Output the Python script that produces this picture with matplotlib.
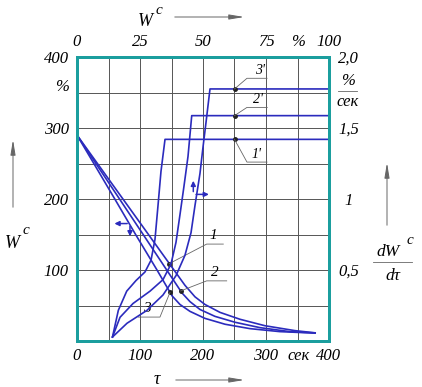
import numpy as np
import matplotlib.pyplot as plt
from matplotlib.lines import Line2D

plt.rcParams['font.family'] = ['Liberation Serif', 'DejaVu Serif']
plt.rcParams['font.style'] = 'italic'

# drying curves 1, 2, 3: W^c (%) against time tau (s)
tau_1 = [0, 32.4, 72.9, 113.4, 153.9, 171.4, 187.3, 203.2, 227, 258.7, 298.4, 346, 378]
w_1 = [290, 250, 200, 150, 100, 78.4, 62.2, 51.4, 40.3, 30.6, 21.5, 14.6, 11.5]
tau_2 = [0, 30, 67.5, 105, 142.4, 166.7, 179.4, 195.2, 219, 250.8, 290.5, 338, 378]
w_2 = [290, 250, 200, 150, 100, 67.6, 55.4, 44.4, 34.7, 26.4, 18.8, 13.2, 11.4]
tau_3 = [0, 26.7, 60, 93, 127, 151, 163.5, 179.4, 203, 235, 274.6, 322, 378]
w_3 = [290, 250, 200, 150, 100, 63.5, 51.4, 41.7, 31.9, 23.6, 17.4, 13.2, 11.1]

# drying rate curves 1', 2', 3': dW^c/dtau (%/s)
tau_1p = [56.3, 65.6, 78.9, 93.7, 107.9, 117.5, 123.8, 128.6, 133.3, 139.7, 400]
rate_1p = [0.028, 0.216, 0.351, 0.426, 0.486, 0.569, 0.716, 0.955, 1.194, 1.42, 1.42]
tau_2p = [56.3, 68.3, 88.9, 115.9, 136.5, 149.2, 157.1, 163.5, 169.8, 176.2, 182.1, 400]
rate_2p = [0.028, 0.167, 0.264, 0.351, 0.432, 0.542, 0.694, 0.891, 1.09, 1.30, 1.587, 1.587]
tau_3p = [56.3, 79.4, 111.1, 136.5, 157.1, 171.4, 181, 187.3, 195.2, 200, 204.8, 211.1, 400]
rate_3p = [0.028, 0.125, 0.216, 0.324, 0.46, 0.604, 0.763, 0.955, 1.18, 1.365, 1.54, 1.775, 1.775]

# points where the curve labels are attached
lab_tau = [146.5, 164.5, 147.6]
lab_w = [109, 70.5, 68.5]
labp_tau = [250, 250, 250]
labp_rate = [1.42, 1.587, 1.775]

blue = '#2b2bbd'
teal = '#1b9e9e'
grey = '#666666'

fig = plt.figure(figsize=(4.22, 3.87), dpi=100)
ax = fig.add_axes([77/422, 46/387, 252/422, 284/387])


def fpx(x, y):
    return x/422, 1 - y/387


ax.set_xlim(0, 400)
ax.set_ylim(0, 400)
ax.set_xticks([0, 100, 200, 300, 352, 400], ['0', '100', '200', '300', 'сек', '400'])
ax.set_yticks([100, 200, 300, 360, 400], ['100', '200', '300', '%', '400'])
for v in np.arange(50, 400, 50):
    ax.axvline(v, color='#555555', lw=0.7, zorder=0)
    ax.axhline(v, color='#555555', lw=0.7, zorder=0)
ax.tick_params(length=0, labelsize=12)
ax.tick_params(axis='x', pad=5)
ax.tick_params(axis='y', pad=6)

ax2 = ax.twinx()
ax2.set_ylim(0, 2)
ax2.set_yticks([0.5, 1, 1.5, 2.0], ['0,5', '1', '1,5', '2,0'])
ax2.tick_params(length=0, pad=14, labelsize=12)
for lbl in ax2.get_yticklabels():
    lbl.set_horizontalalignment('center')

ax3 = ax.twiny()
ax3.set_xlim(0, 100)
ax3.set_xticks([0, 25, 50, 75, 87.5, 100], ['0', '25', '50', '75', '%', '100'])
ax3.tick_params(length=0, pad=5, labelsize=12)

for a in (ax, ax2, ax3):
    for s in a.spines.values():
        s.set_color(teal)
        s.set_linewidth(2)

# curves
ax.plot(tau_1, w_1, color=blue, lw=1.2)
ax.plot(tau_2, w_2, color=blue, lw=1.2)
ax.plot(tau_3, w_3, color=blue, lw=1.2)
ax2.plot(tau_1p, rate_1p, color=blue, lw=1.2)
ax2.plot(tau_2p, rate_2p, color=blue, lw=1.2)
ax2.plot(tau_3p, rate_3p, color=blue, lw=1.2)

# labels with leader lines
ax.plot(lab_tau, lab_w, 'o', color='#222222', ms=2.5)
ax2.plot(labp_tau, labp_rate, 'o', color='#222222', ms=2.5)
lk = dict(color=grey, lw=0.6)
ax.plot([lab_tau[0], 205.8, 232.2], [lab_w[0], 136.5, 136.5], **lk)
ax.text(216, 139, '1', fontsize=11, ha='center', va='bottom')
ax.plot([lab_tau[1], 205.8, 237.6], [lab_w[1], 84.7, 84.7], **lk)
ax.text(218, 87, '2', fontsize=11, ha='center', va='bottom')
ax.plot([lab_tau[2], 131.7, 97.3], [lab_w[2], 33.7, 33.7], **lk)
ax.text(111, 36, '3', fontsize=11, ha='center', va='bottom')
ax2.plot([labp_tau[2], 269.8, 301.6], [labp_rate[2], 1.85, 1.85], **lk)
ax2.text(290, 1.86, "3'", fontsize=10, ha='center', va='bottom')
ax2.plot([labp_tau[1], 269.8, 302], [labp_rate[1], 1.645, 1.645], **lk)
ax2.text(288, 1.655, "2'", fontsize=10, ha='center', va='bottom')
ax2.plot([labp_tau[0], 269.8, 301.6], [labp_rate[0], 1.26, 1.26], **lk)
ax2.text(285, 1.27, "1'", fontsize=10, ha='center', va='bottom')

# pointers to the axis each family belongs to
ap = dict(arrowstyle='-|>', color=blue, lw=1.1, mutation_scale=7)
ax.annotate('', xy=(55, 165.4), xytext=(84.1, 165.4), arrowprops=ap)
ax.annotate('', xy=(84.1, 143.5), xytext=(84.1, 165.4), arrowprops=ap)
ax.annotate('', xy=(184.6, 229.6), xytext=(184.6, 206.5), arrowprops=ap)
ax.annotate('', xy=(213.8, 206.5), xytext=(184.6, 206.5), arrowprops=ap)

# axis names and arrows outside the frame
ga = dict(arrowstyle='-|>,head_length=0.9,head_width=0.15', color=grey, lw=0.7)


def farrow(x0, y0, x1, y1):
    ax.annotate('', xy=fpx(x1, y1), xytext=fpx(x0, y0), xycoords='figure fraction',
                textcoords='figure fraction', arrowprops=ga, annotation_clip=False)


fig.text(*fpx(145, 21), 'W', fontsize=13, ha='center', va='center')
fig.text(*fpx(159, 11), 'c', fontsize=11, ha='center', va='center')
farrow(172, 17, 247, 17)

fig.text(*fpx(157, 379), 'τ', fontsize=13, ha='center', va='center')
farrow(173, 380, 247, 380)

fig.text(*fpx(12, 243), 'W', fontsize=13, ha='center', va='center')
fig.text(*fpx(26, 231), 'c', fontsize=11, ha='center', va='center')
farrow(13, 210, 13, 137)

fig.text(*fpx(388, 252), 'dW', fontsize=12.5, ha='center', va='center')
fig.text(*fpx(410, 241), 'c', fontsize=11, ha='center', va='center')
fig.add_artist(Line2D([373/422, 412/422], [1 - 262/387, 1 - 262/387], color=grey, lw=0.6))
fig.text(*fpx(393, 276), 'dτ', fontsize=12.5, ha='center', va='center')
farrow(387, 228, 387, 160)

fig.text(*fpx(348, 81), '%', fontsize=12, ha='center', va='center')
fig.add_artist(Line2D([338/422, 357/422], [1 - 91/387, 1 - 91/387], color=grey, lw=0.6))
fig.text(*fpx(348, 102), 'сек', fontsize=12, ha='center', va='center')

fig.savefig('out.png', dpi=100)
